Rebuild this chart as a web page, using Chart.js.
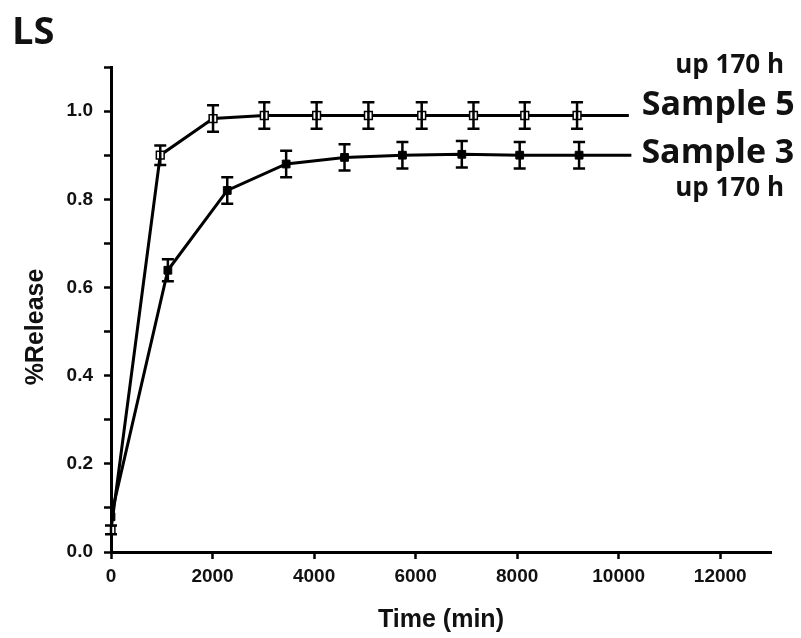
<!DOCTYPE html>
<html>
<head>
<meta charset="utf-8">
<script src="https://cdn.jsdelivr.net/npm/chart.js@4.4.1/dist/chart.umd.min.js"></script>
<style>
  body { margin: 0; background: #fff; }
  #wrap { width: 801px; height: 638px; position: relative; }
</style>
</head>
<body>
<div id="wrap"><canvas id="chart"></canvas></div>
<script>
// values (time in min, release as fraction)
const time5 = [0, 970, 2010, 3020, 4050, 5070, 6120, 7140, 8150, 9180, 10200];
const sample5 = [0.05, 0.90, 0.983, 0.99, 0.99, 0.99, 0.99, 0.99, 0.99, 0.99, 0.99];
const err5 = [0.01, 0.022, 0.03, 0.03, 0.03, 0.03, 0.03, 0.03, 0.03, 0.03, 0];

const time3 = [0, 1120, 2290, 3450, 4600, 5740, 6910, 8050, 9220, 10250];
const sample3 = [0.08, 0.639, 0.82, 0.88, 0.895, 0.90, 0.902, 0.90, 0.90, 0.90];
const err3 = [0, 0.025, 0.03, 0.03, 0.03, 0.03, 0.03, 0.03, 0.03, 0];

const yTicks = [0.0, 0.2, 0.4, 0.6, 0.8, 1.0];
const xTicks = [0, 2000, 4000, 6000, 8000, 10000, 12000];

const toPoints = (xs, ys) => xs.map((x, i) => ({ x: x, y: ys[i] }));
const lastHidden = (n) => Array.from({ length: n }, (_, i) => (i === n - 1 ? 0 : 5.5));

Chart.defaults.font.family = "'Liberation Sans', Arial, sans-serif";
Chart.defaults.font.weight = 'bold';
Chart.defaults.color = '#111';

// vertical error bars, drawn with the chart's own scales
const errorBars = {
    id: 'errorBars',
    afterDatasetsDraw(chart) {
        const ctx = chart.ctx;
        const xs = chart.scales.x, ys = chart.scales.y;
        const sets = [[time5, sample5, err5], [time3, sample3, err3]];
        ctx.save();
        ctx.strokeStyle = '#000';
        ctx.lineWidth = 2.5;
        sets.forEach(([t, v, e]) => {
            t.forEach((tx, i) => {
                if (!e[i]) return;
                const px = xs.getPixelForValue(tx);
                const top = ys.getPixelForValue(v[i] + e[i]);
                const bot = ys.getPixelForValue(v[i] - e[i]);
                ctx.beginPath();
                ctx.moveTo(px, top); ctx.lineTo(px, bot);
                ctx.moveTo(px - 6, top); ctx.lineTo(px + 6, top);
                ctx.moveTo(px - 6, bot); ctx.lineTo(px + 6, bot);
                ctx.stroke();
            });
        });
        ctx.restore();
    }
};

// panel letter, y title and the series labels at the end of each line
const labels = {
    id: 'labels',
    afterDraw(chart) {
        const ctx = chart.ctx;
        const xs = chart.scales.x, ys = chart.scales.y;
        ctx.save();
        ctx.fillStyle = '#111';
        ctx.font = "bold 38px 'Open Sans', sans-serif";
        ctx.textAlign = 'left';
        ctx.textBaseline = 'alphabetic';
        ctx.fillText('LS', 12, 44);

        ctx.save();
        ctx.translate(36, 327);
        ctx.rotate(-Math.PI / 2);
        ctx.textAlign = 'center';
        ctx.textBaseline = 'middle';
        ctx.font = "bold 25px 'Liberation Sans', Arial, sans-serif";
        ctx.fillText('%Release', 0, 0);
        ctx.restore();

        const x5 = xs.getPixelForValue(time5[time5.length - 1]);
        const y5 = ys.getPixelForValue(sample5[sample5.length - 1]);
        const x3 = xs.getPixelForValue(time3[time3.length - 1]);
        const y3 = ys.getPixelForValue(sample3[sample3.length - 1]);

        ctx.textBaseline = 'middle';
        ctx.font = "bold 34px 'Open Sans', sans-serif";
        ctx.fillText('Sample 5', x5 + 13, y5 - 10);
        ctx.fillText('Sample 3', x3 + 10, y3 - 2);

        ctx.font = "bold 26px 'Open Sans', sans-serif";
        ctx.textAlign = 'right';
        ctx.fillText('up 170 h', 784, y5 - 50);
        ctx.fillText('up 170 h', 784, y3 + 33);
        ctx.restore();
    }
};

new Chart(document.getElementById('chart'), {
    type: 'line',
    data: {
        datasets: [
            {
                label: 'Sample 5',
                data: toPoints(time5, sample5),
                borderColor: '#000',
                borderWidth: 3,
                backgroundColor: '#fff',
                pointStyle: 'rect',
                pointRadius: lastHidden(time5.length),
                pointBorderWidth: 1.5,
                pointBorderColor: '#000',
                pointBackgroundColor: '#fff',
                tension: 0
            },
            {
                label: 'Sample 3',
                data: toPoints(time3, sample3),
                borderColor: '#000',
                borderWidth: 3,
                backgroundColor: '#000',
                pointStyle: 'rect',
                pointRadius: lastHidden(time3.length),
                pointBorderWidth: 1,
                pointBorderColor: '#000',
                pointBackgroundColor: '#000',
                tension: 0
            }
        ]
    },
    options: {
        responsive: true,
        maintainAspectRatio: false,
        animation: false,
        layout: { padding: { top: 67, right: 30, bottom: 0, left: 0 } },
        plugins: {
            legend: { display: false },
            tooltip: { enabled: false }
        },
        scales: {
            x: {
                type: 'linear',
                min: 0,
                max: 13000,
                afterFit: (scale) => { scale.height = 86; },
                border: { display: true, color: '#000', width: 3 },
                grid: { drawOnChartArea: false, drawTicks: true, tickLength: 7, tickWidth: 2.5, tickColor: '#000' },
                ticks: {
                    stepSize: 1000,
                    maxRotation: 0,
                    padding: 6,
                    font: { size: 19, weight: 'bold' },
                    callback: (v) => (xTicks.includes(v) ? String(v) : '')
                },
                title: {
                    display: true,
                    text: 'Time (min)',
                    font: { size: 25, weight: 'bold' },
                    padding: { top: 0, bottom: 3 }
                }
            },
            y: {
                min: 0,
                max: 1.1,
                afterFit: (scale) => { scale.width = 111; },
                border: { display: true, color: '#000', width: 3 },
                grid: { drawOnChartArea: false, drawTicks: true, tickLength: 7, tickWidth: 2.5, tickColor: '#000' },
                ticks: {
                    stepSize: 0.1,
                    padding: 11,
                    font: { size: 19, weight: 'bold' },
                    callback: (v) => {
                        const r = Math.round(v * 10) / 10;
                        return yTicks.some((t) => Math.abs(t - r) < 1e-9) ? r.toFixed(1) : '';
                    }
                },
                title: { display: false }
            }
        }
    },
    plugins: [errorBars, labels]
});
</script>
</body>
</html>
